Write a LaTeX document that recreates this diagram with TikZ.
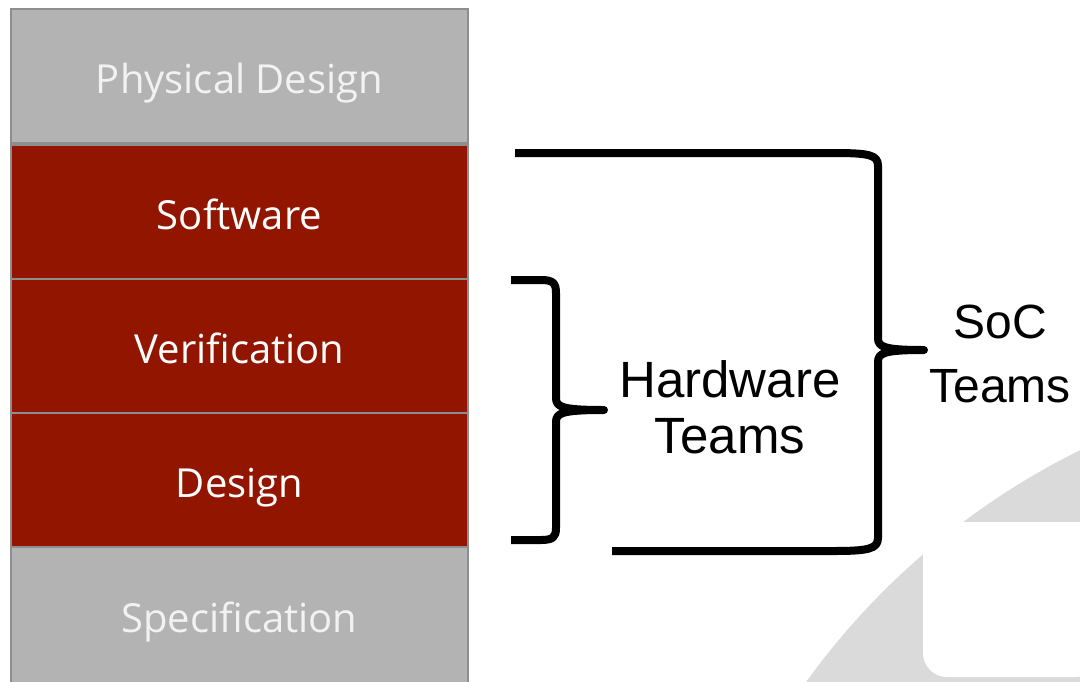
\documentclass[tikz,border=0pt]{standalone}
\usepackage{fontspec}
\setmainfont{Liberation Sans}
\newfontfamily\boxfont{Open Sans}
\definecolor{layergray}{HTML}{B3B3B3}
\definecolor{layerred}{HTML}{921500}
\definecolor{layeredge}{HTML}{8E8E8E}
\definecolor{logogray}{HTML}{DADADA}
\begin{document}
\begin{tikzpicture}[x=1pt,y=-1pt,
  layer/.style={draw=layeredge, line width=2pt, anchor=north west,
    minimum width=457pt, minimum height=134pt, inner sep=0pt,
    text height=34pt, text depth=0pt,
    font=\boxfont\fontsize{40}{46}\selectfont},
  graylayer/.style={layer, fill=layergray, text=white!95!black},
  redlayer/.style={layer, fill=layerred, text=white},
  bracket/.style={draw=black, line width=8pt, line cap=butt, line join=round},
  teamlabel/.style={align=center, inner sep=0pt, anchor=base}]
\useasboundingbox (0,0) rectangle (1080,681);
\fill[white] (0,0) rectangle (1080,681);

% faint logo in the lower right corner
\begin{scope}
  \clip (0,0) rectangle (1080,681);
  \fill[logogray] (1408,1116) circle (742);
  \fill[white, rounded corners=24pt] (923,522) -- (923,677) -- (1100,677) -- (1100,522) -- cycle;
  \fill[white] (923,522) rectangle (1100,540);
\end{scope}

% layer stack
\node[graylayer] (phys) at (10,8)   {Physical Design};
\node[redlayer]  (soft) at (10,144) {Software};
\node[redlayer]  (veri) at (10,278) {Verification};
\node[redlayer]  (desi) at (10,412) {Design};
\node[graylayer, minimum height=137pt] (spec) at (10,546) {Specification};

% labels (anchored at the baseline of their last line)
\node[teamlabel, font=\fontsize{51}{56}\selectfont] (hw) at (730,453) {Hardware\\Teams};
\node[teamlabel, font=\fontsize{48}{64}\selectfont] (soc) at (1000,402) {SoC\\Teams};

% brace for the hardware teams
\draw[bracket] (511,280) -- (541,280)
  .. controls (553,280) and (556,283) .. (556,293) -- (556,398)
  .. controls (556,407) and (562,410) .. (604,410)
  .. controls (562,410) and (556,413) .. (556,422) -- (556,528)
  .. controls (556,537) and (553,540) .. (541,540) -- (511,540);

% brace for the SoC teams
\draw[bracket] (515,153) -- (833,153)
  .. controls (870,153) and (878,155) .. (878,166) -- (878,338)
  .. controls (878,347) and (884,350) .. (924,350)
  .. controls (884,350) and (878,353) .. (878,362) -- (878,538)
  .. controls (878,549) and (868,551) .. (833,551) -- (612,551);
\end{tikzpicture}
\end{document}
